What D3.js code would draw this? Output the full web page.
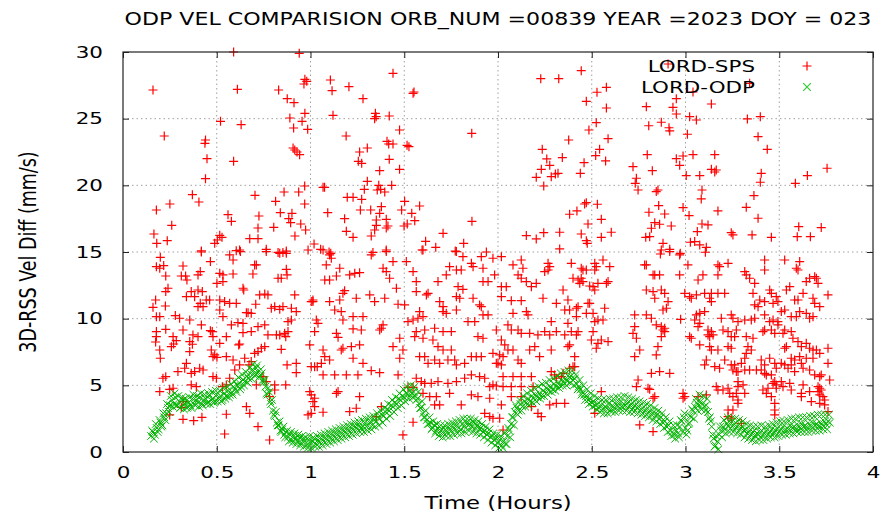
<!DOCTYPE html>
<html>
<head>
<meta charset="utf-8">
<script src="https://cdn.jsdelivr.net/npm/d3@7/dist/d3.min.js"></script>
<style>
  body { margin: 0; background: #fff; }
  text { font-family: "DejaVu Sans", sans-serif; fill: #000; }
</style>
</head>
<body>
<svg id="chart" width="881" height="512"></svg>
<script>
'use strict';

const chartTitle = "ODP VEL COMPARISION ORB_NUM =00839 YEAR =2023 DOY = 023";
const xLabel = "Time (Hours)";
const yLabel = "3D-RSS Vel Diff (mm/s)";
const seriesNames = ["LORD-SPS", "LORD-ODP"];
const xTicks = [0, 0.5, 1, 1.5, 2, 2.5, 3, 3.5, 4];
const yTicks = [0, 5, 10, 15, 20, 25, 30];

// LORD-ODP samples, one every 0.01 h from 0.15 h
const odpStart = 0.15, odpStep = 0.01;
const odpVel = [
  1.2,1.5,1.3,1.8,1.7,2.2,2.0,2.6,2.9,3.3,
  3.5,3.9,3.6,4.1,3.5,3.8,3.4,3.9,3.6,3.3,
  3.7,3.5,4.0,3.6,3.9,3.7,4.1,3.6,3.9,4.0,
  3.7,4.2,3.9,4.0,3.8,4.3,4.0,4.2,3.9,4.4,
  4.2,4.6,4.3,4.5,4.9,4.7,5.0,5.2,4.9,5.4,
  5.3,5.7,5.5,5.9,6.2,5.9,6.3,6.0,5.7,5.9,
  5.2,4.9,4.3,4.5,3.6,3.1,2.7,2.2,2.0,1.6,
  1.7,1.3,1.5,1.1,1.3,0.9,1.2,1.0,0.8,1.1,
  0.7,1.0,0.8,0.5,0.9,0.6,0.8,1.0,0.6,0.9,
  0.7,1.0,0.8,1.1,0.9,1.2,1.0,1.3,1.1,1.4,
  1.2,1.5,1.3,1.6,1.4,1.7,1.5,1.8,1.6,1.9,
  1.7,2.0,1.8,1.9,2.2,1.9,2.1,2.3,2.0,2.4,
  2.3,2.6,2.5,2.8,2.7,3.0,3.2,3.1,3.5,3.4,
  3.7,3.6,4.0,3.9,4.2,4.1,4.4,4.3,4.6,4.4,
  4.5,4.2,4.0,3.6,3.3,2.9,2.6,2.4,2.1,2.2,
  1.8,2.0,1.6,1.8,1.5,1.7,1.4,1.7,1.5,1.8,
  1.6,1.9,1.7,2.0,1.8,1.7,2.1,1.9,2.2,2.0,
  2.1,1.9,2.2,1.8,2.0,1.7,1.8,1.5,1.6,1.3,
  1.4,1.1,1.2,0.9,1.0,0.7,0.9,0.5,0.8,0.6,
  1.2,1.6,2.1,2.6,3.0,3.3,3.1,3.6,3.4,3.8,
  3.7,4.0,3.8,4.2,4.0,4.3,4.1,4.4,4.2,4.6,
  4.5,4.8,4.6,4.9,4.7,5.1,4.9,5.2,5.0,5.4,
  5.2,5.5,5.3,5.6,5.7,5.4,5.5,5.1,4.9,4.7,
  4.5,4.3,4.2,3.9,4.0,3.7,3.8,3.5,3.6,3.3,
  3.5,3.2,3.4,3.3,3.6,3.2,3.5,3.3,3.6,3.4,
  3.7,3.4,3.6,3.5,3.7,3.4,3.6,3.3,3.5,3.3,
  3.4,3.1,3.3,3.0,3.2,2.9,3.1,2.8,3.0,2.7,
  2.8,2.5,2.6,2.2,2.3,1.9,2.0,1.6,1.5,1.3,
  1.6,1.4,1.9,2.3,2.6,1.8,1.6,2.2,2.6,3.1,
  3.4,3.7,3.5,3.8,3.6,3.4,3.5,3.0,2.6,1.9,
  1.0,0.5,0.8,1.3,1.6,1.9,1.7,2.1,1.9,2.2,
  1.9,2.1,1.8,2.0,1.7,1.9,1.6,1.7,1.4,1.6,
  1.3,1.5,1.2,1.4,1.3,1.5,1.2,1.4,1.6,1.3,
  1.5,1.7,1.4,1.6,1.8,1.5,1.7,1.9,1.6,1.8,
  1.7,2.0,1.8,1.9,1.7,2.0,1.8,2.1,1.9,2.0,
  1.8,2.1,1.9,2.2,2.0,2.1,1.9,2.2,2.0,2.3,
  2.1,2.3,2.2
];

// LORD-ODP samples in between, one every 0.01 h from 0.155 h
const odpStartB = 0.155;
const odpVelB = [
  1.6,1.0,2.1,1.5,2.4,1.9,2.9,2.4,3.6,3.0,
  4.2,3.4,4.4,3.5,4.2,3.3,4.1,3.2,4.0,3.4,
  4.1,3.3,4.3,3.5,4.2,3.4,4.4,3.5,4.3,3.6,
  4.4,3.6,4.5,3.7,4.6,3.8,4.6,3.8,4.8,4.0,
  4.9,4.1,5.1,4.3,5.3,4.5,5.6,4.7,5.8,5.0,
  6.0,5.2,6.3,5.5,6.6,5.7,6.5,5.6,6.2,5.4,
  5.4,4.4,4.8,3.8,3.9,2.8,3.0,2.0,2.3,1.5,
  1.9,1.1,1.6,0.8,1.5,0.7,1.4,0.6,1.3,0.5,
  1.2,0.4,1.1,0.3,1.2,0.3,1.1,0.4,1.2,0.4,
  1.3,0.5,1.4,0.6,1.5,0.7,1.6,0.8,1.7,0.9,
  1.8,1.0,1.9,1.1,2.0,1.2,2.1,1.3,2.2,1.4,
  2.3,1.5,2.4,1.5,2.5,1.6,2.6,1.7,2.7,1.9,
  2.9,2.0,3.1,2.2,3.3,2.5,3.6,2.7,3.9,3.0,
  4.1,3.3,4.4,3.5,4.7,3.8,4.9,4.0,5.0,4.1,
  4.9,3.9,4.5,3.3,3.8,2.6,3.1,2.1,2.6,1.7,
  2.3,1.4,2.1,1.2,2.0,1.1,2.0,1.2,2.1,1.2,
  2.2,1.3,2.3,1.4,2.4,1.4,2.5,1.5,2.5,1.6,
  2.5,1.5,2.4,1.4,2.3,1.3,2.1,1.1,1.9,0.9,
  1.7,0.7,1.4,0.5,1.3,0.3,1.2,0.3,1.4,0.6,
  1.8,1.1,2.6,2.0,3.5,2.8,3.9,3.1,4.2,3.4,
  4.4,3.5,4.6,3.7,4.8,3.8,4.9,4.0,5.1,4.2,
  5.2,4.3,5.4,4.5,5.5,4.6,5.7,4.8,5.9,5.0,
  6.0,5.0,6.1,5.2,6.1,5.0,5.8,4.7,5.4,4.3,
  5.0,3.9,4.7,3.6,4.4,3.4,4.2,3.2,4.0,3.0,
  3.9,2.9,3.9,2.9,4.0,3.0,4.0,3.0,4.1,3.1,
  4.1,3.1,4.2,3.1,4.1,3.0,4.0,3.0,3.9,2.9,
  3.8,2.8,3.7,2.7,3.6,2.6,3.5,2.4,3.3,2.3,
  3.1,2.1,2.9,1.8,2.6,1.5,2.3,1.2,2.0,1.0,
  2.0,1.1,2.4,1.5,2.9,1.3,2.1,2.7,3.2,2.5,
  4.0,3.1,4.3,3.2,4.2,3.1,4.0,2.5,2.3,1.3,
  0.4,1.2,0.2,1.9,1.1,2.4,1.4,2.6,1.5,2.5,
  1.5,2.5,1.4,2.4,1.3,2.3,1.1,2.1,1.0,2.0,
  0.9,1.9,0.8,1.9,0.9,2.0,0.9,1.9,1.0,2.0,
  1.1,2.1,1.1,2.2,1.2,2.3,1.3,2.3,1.3,2.4,
  1.4,2.5,1.4,2.5,1.5,2.6,1.5,2.6,1.5,2.6,
  1.5,2.7,1.6,2.7,1.6,2.8,1.6,2.8,1.7,2.8,
  1.7,2.8
];

// LORD-SPS points [hours, mm/s]
const spsPoints = [
  [.59,30.0],[.94,29.9],[.16,27.15],[.61,27.2],[.83,27.15],[.97,27.95],[.98,27.8],[.965,27.6],[1.106,27.9],[1.115,27.1],
  [1.205,27.4],[1.44,28.4],[1.28,26.5],[1.547,26.9],[1.552,27.0],[.876,26.5],[.912,26.2],[.89,25.05],[.97,25.4],[.955,24.8],
  [.91,24.3],[.985,24.2],[1.12,25.25],[1.346,25.4],[1.342,25.0],[1.35,25.15],[1.42,25.2],[.52,24.8],[.63,24.55],[.22,23.7],
  [.44,23.4],[.437,23.15],[1.19,23.7],[1.475,24.15],[1.86,23.9],[1.408,23.3],[1.417,23.1],[1.44,23.1],[1.515,23.0],[1.525,22.9],
  [1.303,22.8],[1.262,22.5],[.907,22.8],[.916,22.65],[.928,22.5],[.942,22.3],[.448,22.0],[.59,21.8],[1.255,21.8],[1.273,21.65],
  [1.42,21.95],[1.369,21.1],[1.475,21.2],[.44,20.5],[1.303,20.3],[.969,19.95],[1.067,19.85],[1.075,19.85],[1.364,20.0],[1.374,19.7],
  [1.356,19.65],[1.396,19.5],[1.433,20.0],[1.287,19.7],[.37,19.3],[.405,18.75],[.704,19.25],[.859,19.5],[.937,19.5],[.814,18.8],
  [.969,18.6],[1.196,19.1],[1.227,19.1],[1.273,18.95],[1.502,18.8],[1.582,18.45],[.178,18.15],[.25,18.6],[1.266,18.15],[1.321,18.15],
  [1.378,18.4],[1.369,17.9],[1.351,17.4],[1.486,18.15],[1.54,17.9],[.56,17.8],[.578,17.3],[.725,17.7],[.839,17.95],[.901,17.9],
  [.884,17.5],[.894,17.2],[1.092,17.95],[1.182,17.5],[1.404,17.45],[1.413,16.95],[1.404,16.8],[1.351,17.0],[1.342,16.65],[1.324,16.2],
  [1.556,17.35],[1.516,17.1],[1.499,16.95],[1.861,17.3],[.26,17.0],[.165,16.35],[.18,15.65],[.236,15.85],[.72,16.8],[.72,16.0],
  [.676,16.0],[.804,16.85],[.948,17.1],[.917,16.2],[.974,16.65],[1.191,16.55],[1.227,16.1],[1.707,16.4],[1.614,15.8],[1.668,15.35],
  [1.817,15.65],[.516,16.25],[.528,16.1],[.503,15.9],[.489,15.65],[1.019,15.6],[1.054,15.2],[1.099,15.0],[1.108,14.9],[.418,15.0],
  [.622,15.15],[.604,15.1],[.764,15.2],[.827,14.97],[.853,14.97],[.871,15.07],[1.333,14.97],[1.404,15.15],[1.595,15.15],[1.772,15.07],
  [1.938,15.0],
  [2.907,29.1],[2.444,28.6],[2.228,28.0],[2.324,28.0],[3.342,27.65],[3.04,27.0],[2.578,27.35],[2.528,26.98],[2.471,26.3],[2.951,26.5],
  [2.933,25.85],[2.951,25.35],[2.791,25.9],[3.138,26.1],[2.578,25.8],[3.022,25.15],[3.058,24.9],[3.33,24.98],[3.399,25.15],[2.524,24.7],
  [2.804,24.47],[2.871,24.73],[2.912,24.32],[2.916,24.08],[2.485,24.15],[3.01,23.83],[3.387,23.65],[2.377,23.4],[2.587,23.5],[2.236,22.7],
  [2.542,22.7],[3.436,22.7],[2.26,21.98],[2.343,22.08],[2.521,22.23],[2.574,21.83],[2.459,21.7],[2.796,22.3],[2.951,22.0],[2.987,22.2],
  [3.04,22.3],[2.969,21.5],[3.156,22.3],[2.276,21.5],[2.231,21.2],[2.204,20.6],[2.244,19.95],[2.284,20.65],[2.306,20.85],[2.32,20.9],
  [2.439,20.9],[2.72,21.4],[2.738,20.53],[2.732,20.15],[2.747,19.65],[2.823,21.1],[3.138,21.2],[3.164,21.15],[3.156,21.0],[3.004,20.73],
  [3.076,20.73],[3.404,20.9],[3.399,20.23],[3.586,20.15],[3.65,20.73],[3.755,21.28],[2.844,19.53],[2.853,19.65],[3.088,19.65],[3.084,18.98],
  [3.365,19.23],[2.462,18.6],[2.471,18.7],[2.53,18.58],[2.421,18.08],[2.382,17.83],[2.857,18.48],[2.805,17.98],[2.889,17.85],[2.987,18.33],
  [3.019,17.73],[3.173,18.08],[3.324,18.35],[3.387,17.53],[2.551,17.45],[2.48,17.1],[2.836,17.2],[2.862,17.08],[2.818,16.78],[2.809,16.15],
  [2.924,16.95],[3.088,17.1],[3.12,17.03],[3.063,16.53],[3.244,16.45],[3.253,16.28],[3.355,16.28],[3.458,16.1],[3.604,16.9],[3.596,16.15],
  [3.666,16.15],[3.724,16.83],[2.151,16.23],[2.204,15.98],[2.244,16.45],[2.329,16.48],[2.444,16.35],[2.471,15.85],[2.476,15.65],[2.551,16.1],
  [2.604,16.48],[2.788,16.1],[2.88,15.65],[2.916,15.2],[3.026,15.73],[3.049,15.78],[3.076,15.53],[3.111,15.35],[3.106,14.98],[2.329,15.23],
  [2.972,14.9],[2.866,14.85],
  [.199,14.6],[.178,13.9],[.196,13.78],[.217,13.98],[.228,13.2],[.32,13.95],[.311,13.2],[.334,13.2],[.24,12.28],[.228,12.03],
  [.174,11.4],[.16,10.85],[.226,10.95],[.178,10.15],[.196,10.15],[.279,10.23],[.228,9.2],[.178,8.65],[.174,8.25],[.196,7.65],
  [.199,7.03],[.267,8.65],[.284,8.35],[.258,7.9],[.27,8.1],[.32,9.15],[.356,8.28],[.178,9.03],[.213,5.53],[.228,5.65],
  [.249,4.7],[.267,4.78],[.196,4.53],[.338,6.65],[.329,6.28],[.293,6.03],[.32,3.78],[.311,3.35],[.32,2.45],[.377,2.35],
  [.421,2.6],[.249,2.78],[.364,12.03],[.4,12.15],[.423,12.03],[.444,11.4],[.462,11.4],[.338,11.65],[.382,11.65],[.427,10.9],
  [.412,11.15],[.4,10.9],[.302,10.03],[.356,9.9],[.418,9.53],[.466,9.1],[.476,9.03],[.373,8.78],[.4,8.65],[.37,8.08],
  [.356,7.53],[.471,7.65],[.489,7.28],[.501,7.1],[.409,6.28],[.427,6.15],[.382,6.03],[.48,5.65],[.498,5.53],[.364,5.03],
  [.391,4.9],[.364,5.9],[.466,14.28],[.412,13.53],[.4,13.28],[.341,12.9],[.418,15.08],[.516,13.4],[.533,13.28],[.587,13.35],
  [.501,12.65],[.533,12.78],[.516,11.4],[.542,11.28],[.569,11.15],[.604,11.15],[.533,10.15],[.578,9.53],[.613,9.7],[.516,10.65],
  [.617,8.03],[.622,8.1],[.551,8.65],[.516,8.15],[.48,8.65],[.48,7.15],[.587,6.9],[.551,7.15],[.649,7.03],[.672,6.53],
  [.684,6.78],[.702,7.4],[.72,7.53],[.738,7.78],[.756,7.9],[.64,8.95],[.684,9.03],[.72,9.4],[.756,9.53],[.773,8.78],
  [.818,8.78],[.836,8.78],[.862,8.9],[.64,9.65],[.667,10.45],[.658,10.45],[.684,10.4],[.708,11.08],[.729,11.78],[.756,11.85],
  [.773,11.78],[.569,14.78],[.626,15.03],[.587,14.4],[.644,12.15],[.64,12.28],[.702,14.03],[.693,13.35],[.711,14.03],[.764,15.03],
  [.836,14.9],[.871,14.9],[.827,13.03],[.844,13.03],[.875,13.28],[.871,13.7],[.791,10.78],[.809,10.9],[.836,10.7],[.853,10.9],
  [.898,10.78],[.916,11.78],[.924,10.53],[.898,9.9],[.88,9.78],[.88,9.03],[.868,8.65],[.844,7.7],[.924,6.65],[.924,5.95],
  [.875,6.53],[1.013,11.28],[1.004,11.28],[.711,5.03],[.658,3.4],[.676,2.9],[.551,2.83],[.72,1.9],[.542,1.35],[.782,0.9],
  [.782,4.15],[.809,4.65],[.809,5.03],[.868,5.03],[.764,5.28],[.747,5.65],[.53,4.9],[.569,5.53],[.551,5.03],[.622,6.53],
  [.596,6.15],
  [.987,15.15],[1.067,15.15],[1.102,14.78],[1.156,13.78],[1.084,14.03],[1.111,14.53],[1.209,13.28],[1.236,13.4],[1.262,13.45],[1.138,13.2],
  [1.076,12.9],[1.102,12.9],[1.324,14.78],[1.404,15.03],[1.44,14.28],[1.387,13.78],[1.404,13.53],[1.422,13.03],[1.182,12.1],[1.173,11.9],
  [1.244,11.53],[1.316,11.78],[1.342,11.28],[1.396,11.53],[1.458,12.28],[1.013,11.4],[1.102,11.28],[1.156,11.4],[1.129,10.65],[1.164,10.53],
  [1.227,10.15],[1.28,10.15],[1.173,9.9],[1.031,9.9],[1.04,9.65],[1.022,9.03],[1.138,8.9],[1.147,8.6],[1.227,9.23],[1.271,9.15],
  [1.369,9.15],[1.387,9.53],[1.378,9.28],[1.467,11.08],[1.502,11.03],[1.44,7.9],[1.476,8.53],[1.493,7.65],[1.476,7.03],[.996,8.03],
  [1.067,7.65],[1.076,7.15],[1.102,6.9],[1.164,7.65],[1.173,7.78],[1.218,7.9],[1.262,8.03],[1.058,6.65],[1.022,6.4],[1.004,6.4],
  [1.036,6.4],[1.067,5.78],[1.129,5.78],[1.191,5.78],[1.253,5.78],[1.324,6.1],[1.369,5.95],[1.467,5.78],[1.227,7.03],[1.28,6.65],
  [.996,4.53],[1.004,4.28],[1.022,4.03],[1.013,3.78],[1.022,3.4],[1.004,2.9],[.987,2.78],[1.067,2.98],[1.147,4.53],[1.138,4.4],
  [1.262,4.15],[1.378,3.4],[1.244,3.28],[1.209,3.03],[1.351,2.65],[1.493,1.28],[1.547,2.23],[1.52,4.85],[1.547,4.85],
  [1.511,14.28],[1.547,13.53],[1.564,12.78],[1.564,12.03],[1.627,11.9],[1.618,11.78],[1.52,9.78],[1.547,9.9],[1.573,10.03],[1.6,10.15],
  [1.582,10.53],[1.68,12.78],[1.724,13.28],[1.742,13.9],[1.778,13.65],[1.804,13.65],[1.858,14.15],[1.867,13.9],[1.92,13.78],[1.911,14.65],
  [1.973,14.53],[1.982,13.28],[1.6,15.15],[1.778,15.03],[1.813,14.65],[1.787,12.4],[1.813,12.2],[1.92,12.78],[1.947,12.78],[1.689,11.28],
  [1.707,10.9],[1.778,11.65],[1.796,11.53],[1.867,11.53],[1.902,11.03],[1.911,10.9],[1.707,10.53],[1.724,10.4],[1.778,10.65],[1.84,9.78],
  [1.876,9.78],[1.92,10.28],[1.947,10.28],[1.564,9.03],[1.609,9.15],[1.662,9.28],[1.707,9.03],[1.751,9.03],[1.556,8.65],[1.6,8.53],
  [1.653,8.4],[1.68,7.9],[1.707,7.65],[1.751,7.65],[1.893,8.65],[1.92,8.53],[1.991,9.15],[1.582,7.15],[1.609,7.15],[1.627,6.65],
  [1.662,6.9],[1.689,6.65],[1.733,6.9],[1.769,6.9],[1.778,6.53],[1.822,6.65],[1.858,7.15],[1.884,7.15],[1.911,7.15],[1.973,7.4],
  [1.991,6.65],[1.564,5.53],[1.591,5.28],[1.609,5.15],[1.644,5.15],[1.68,5.28],[1.733,5.15],[1.778,5.28],[1.822,5.53],[1.858,5.78],
  [1.902,5.65],[1.929,5.53],[1.956,4.9],[1.973,5.03],[1.991,4.95],[1.6,4.4],[1.636,4.15],[1.671,4.15],[1.742,4.4],[1.804,3.53],
  [1.858,4.28],[1.893,4.15],[1.956,4.03],[1.929,2.9],[1.956,2.65],[1.973,2.53],[1.662,3.53],[1.689,3.53],
  [2.018,14.65],[2.08,14.03],[2.124,14.4],[2.133,13.78],[2.107,13.28],[2.124,13.03],[2.151,12.78],[2.178,12.4],[2.204,12.65],[2.018,12.4],
  [2.044,12.4],[2.018,11.65],[2.071,11.35],[2.124,11.35],[2.151,10.53],[2.16,10.28],[2.08,10.4],[2.053,9.53],[2.071,9.15],[2.107,9.15],
  [2.124,8.9],[2.169,8.9],[2.213,8.78],[2.018,8.4],[2.036,8.03],[2.053,7.65],[2.08,7.65],[2.009,7.28],[2.027,7.15],[2.0,6.65],
  [2.018,6.53],[2.107,6.9],[2.124,6.65],[2.169,7.65],[2.196,7.9],[2.222,7.15],[2.027,5.65],[2.08,5.65],[2.124,5.65],[2.178,5.65],
  [2.027,4.9],[2.071,4.9],[2.124,4.9],[2.187,4.9],[2.071,4.15],[2.124,4.15],[2.018,3.53],[2.009,2.53],[2.027,1.65],[2.178,3.4],
  [2.213,2.9],[2.231,2.65],
  [2.249,13.53],[2.267,14.15],[2.276,13.9],[2.267,13.65],[2.24,11.53],[2.311,11.15],[2.347,12.15],[2.373,11.4],[2.356,10.65],[2.382,10.65],
  [2.418,10.78],[2.427,10.9],[2.4,13.03],[2.427,12.9],[2.444,13.03],[2.436,12.65],[2.453,12.78],[2.489,12.45],[2.391,14.15],[2.444,13.78],
  [2.453,13.65],[2.471,13.65],[2.284,9.78],[2.249,9.03],[2.276,8.78],[2.311,9.03],[2.356,8.78],[2.391,9.03],[2.418,8.78],[2.427,9.03],
  [2.373,9.65],[2.418,10.15],[2.471,10.4],[2.48,11.15],[2.284,7.65],[2.373,7.9],[2.382,8.03],[2.409,7.15],[2.4,6.4],[2.284,6.03],
  [2.347,5.9],[2.382,6.28],[2.409,6.4],[2.311,5.53],[2.338,5.65],[2.302,5.78],[2.276,3.53],[2.356,3.65],[2.311,3.65],
  [2.516,14.15],[2.524,13.9],[2.516,13.65],[2.56,14.4],[2.596,13.9],[2.507,12.4],[2.516,12.15],[2.533,12.65],[2.587,12.78],[2.578,12.65],
  [2.489,11.15],[2.507,10.4],[2.56,9.9],[2.569,10.78],[2.533,9.9],[2.516,9.78],[2.507,9.03],[2.498,8.4],[2.533,8.15],[2.524,7.78],
  [2.551,8.4],[2.587,8.28],[2.516,2.9],[2.551,4.53],[2.729,10.28],[2.729,9.4],[2.72,8.9],[2.738,8.53],[2.756,7.65],[2.729,7.15],
  [2.782,14.03],[2.791,14.03],[2.836,13.28],[2.827,13.28],[2.862,13.28],[2.791,12.15],[2.827,12.03],[2.836,11.53],[2.871,12.15],[2.889,11.9],
  [2.907,11.28],[2.898,10.78],[2.88,10.65],[2.791,10.28],[2.818,10.03],[2.844,9.53],[2.871,9.4],[2.889,9.28],[2.88,9.15],[2.889,9.03],
  [2.871,8.65],[2.853,7.9],[2.844,7.28],[2.818,5.9],[2.862,6.03],[2.916,5.9],[2.747,5.4],[2.738,4.9],[2.8,4.78],[2.809,4.7],
  [2.836,4.15],[2.827,4.03],[2.756,2.03],[2.827,1.53],
  [2.871,15.15],[2.916,15.03],[2.969,14.78],[2.969,13.28],[2.996,11.9],[3.022,11.65],[3.031,11.53],[3.058,11.78],[2.974,9.95],[3.031,8.53],
  [3.022,8.65],[2.987,4.4],[2.987,4.03],[2.996,4.15],[3.067,4.15],[3.111,4.28],
  [3.013,14.03],[3.067,12.9],[3.093,13.28],[3.102,11.9],[3.138,11.9],[3.173,11.9],[3.209,11.9],[3.173,14.03],[3.173,13.28],[3.227,14.15],
  [3.182,13.9],[3.129,11.53],[3.138,11.28],[3.058,10.28],[3.076,10.4],[3.102,10.53],[3.049,9.9],[3.076,9.65],[3.067,9.4],[3.12,9.15],
  [3.138,9.03],[3.12,8.78],[3.147,8.78],[3.129,8.65],[3.191,10.03],[3.244,10.28],[3.253,10.03],[3.28,9.78],[3.2,9.15],[3.227,9.03],
  [3.271,9.15],[3.244,8.65],[3.262,8.65],[3.076,8.03],[3.129,7.9],[3.138,7.65],[3.173,7.65],[3.227,7.9],[3.244,7.78],[3.111,6.9],
  [3.102,6.53],[3.156,6.4],[3.182,6.28],[3.209,6.9],[3.244,6.53],[3.271,6.03],[3.28,5.28],[3.28,4.9],[3.307,5.03],[3.164,4.9],
  [3.173,4.65],[3.2,4.65],[3.227,4.78],[3.236,4.4],[3.253,4.15],[3.28,3.9],[3.28,3.65],[3.227,3.15],[3.253,3.15],[3.227,2.65],
  [3.244,2.53],[3.298,2.15],[3.271,4.4],
  [3.316,13.53],[3.324,13.28],[3.342,13.03],[3.369,12.65],[3.422,14.4],[3.422,13.65],[3.36,11.9],[3.396,11.4],[3.369,11.03],[3.387,10.9],
  [3.422,11.28],[3.449,12.15],[3.458,11.9],[3.467,11.15],[3.484,11.65],[3.493,11.28],[3.316,9.9],[3.351,9.9],[3.369,10.03],[3.422,10.28],
  [3.449,9.78],[3.467,9.9],[3.493,9.78],[3.493,9.53],[3.324,8.65],[3.36,8.53],[3.413,9.03],[3.422,9.15],[3.458,9.15],[3.476,8.9],
  [3.333,7.9],[3.351,7.65],[3.324,7.4],[3.316,7.03],[3.404,6.9],[3.449,7.03],[3.422,6.53],[3.476,6.65],[3.484,6.28],[3.298,6.65],
  [3.262,6.53],[3.253,6.15],[3.28,6.03],[3.316,6.15],[3.342,6.15],[3.378,6.15],[3.404,6.15],[3.422,5.9],[3.431,5.78],[3.458,5.78],
  [3.467,5.15],[3.476,5.28],[3.484,5.03],[3.44,4.78],[3.484,4.78],[3.458,4.15],[3.476,3.65],[3.476,3.15],[3.476,2.78],[3.413,4.65],
  [3.431,4.4],[3.316,4.4],
  [3.529,14.4],[3.591,13.78],[3.6,13.65],[3.609,14.28],[3.538,12.15],[3.556,12.4],[3.582,11.4],[3.6,11.4],[3.627,11.9],[3.644,12.78],
  [3.662,13.03],[3.689,13.15],[3.707,12.65],[3.698,13.03],[3.76,11.78],[3.68,11.53],[3.689,11.15],[3.716,10.9],[3.511,10.53],[3.529,10.65],
  [3.564,10.15],[3.591,10.15],[3.609,10.53],[3.644,10.4],[3.662,10.03],[3.68,10.15],[3.52,8.9],[3.529,9.15],[3.564,9.03],[3.573,8.53],
  [3.6,8.28],[3.618,7.9],[3.644,8.15],[3.662,7.78],[3.68,7.65],[3.529,7.78],[3.538,7.9],[3.564,7.03],[3.582,6.9],[3.609,7.15],
  [3.618,6.65],[3.644,7.03],[3.68,7.03],[3.698,7.65],[3.716,7.4],[3.76,7.78],[3.511,6.65],[3.529,6.53],[3.547,6.28],[3.564,6.53],
  [3.582,6.03],[3.627,6.28],[3.662,6.15],[3.689,5.78],[3.716,5.65],[3.724,5.78],[3.76,6.65],[3.511,5.28],[3.52,4.9],[3.556,5.15],
  [3.564,4.65],[3.627,5.03],[3.618,4.4],[3.662,4.53],[3.707,4.9],[3.716,4.78],[3.724,4.65],[3.707,4.53],[3.769,5.4],[3.716,4.28],
  [3.733,4.15],[3.742,3.9],[3.742,3.53],[3.716,3.65],[3.76,3.03],[3.618,4.15],[3.671,3.78]
];

(function () {
  const svg = d3.select("#chart");
  const margin = { left: 123, top: 52, right: 8, bottom: 60 };
  const width = 881 - margin.left - margin.right;
  const height = 512 - margin.top - margin.bottom;
  const stretch = 1.3; // glyphs of the reference are wide

  const x = d3.scaleLinear().domain([0, 4]).range([0, width]);
  const y = d3.scaleLinear().domain([0, 30]).range([height, 0]);

  const g = svg.append("g")
    .attr("transform", `translate(${margin.left},${margin.top})`);

  // dotted grid
  g.append("g").selectAll("line")
    .data(xTicks.slice(1, -1))
    .join("line")
    .attr("x1", d => x(d)).attr("x2", d => x(d))
    .attr("y1", 0).attr("y2", height)
    .attr("stroke", "#a0a0a0").attr("stroke-dasharray", "1.5,3");
  g.append("g").selectAll("line")
    .data(yTicks.slice(1, -1))
    .join("line")
    .attr("x1", 0).attr("x2", width)
    .attr("y1", d => y(d)).attr("y2", d => y(d))
    .attr("stroke", "#a0a0a0").attr("stroke-dasharray", "1.5,3");

  // axes, ticks pointing inward, mirrored on top/right
  const fmt = d => String(d);
  const xAxis = g.append("g")
    .attr("transform", `translate(0,${height})`)
    .call(d3.axisBottom(x).tickValues(xTicks).tickFormat(fmt).tickSize(-6).tickSizeOuter(0).tickPadding(14));
  const yAxis = g.append("g")
    .call(d3.axisLeft(y).tickValues(yTicks).tickFormat(fmt).tickSize(-6).tickSizeOuter(0).tickPadding(20));
  g.append("g")
    .call(d3.axisTop(x).tickValues(xTicks).tickFormat("").tickSize(-6).tickSizeOuter(0));
  g.append("g")
    .attr("transform", `translate(${width},0)`)
    .call(d3.axisRight(y).tickValues(yTicks).tickFormat("").tickSize(-6).tickSizeOuter(0));

  g.selectAll(".domain").remove();
  g.selectAll(".tick line").attr("stroke", "#222");
  [xAxis, yAxis].forEach(a => a.selectAll("text")
    .attr("font-family", "DejaVu Sans")
    .attr("font-size", 16.5)
    .attr("fill", "#111"));
  xAxis.selectAll("text").attr("transform", `scale(${stretch},1)`);
  yAxis.selectAll("text").attr("x", -20 / stretch).attr("transform", `scale(${stretch},1)`);

  const plus = "M-4.5,0H4.5M0,-4.5V4.5";
  const cross = "M-3.8,-3.8L3.8,3.8M-3.8,3.8L3.8,-3.8";

  // LORD-SPS
  g.append("g").selectAll("path")
    .data(spsPoints)
    .join("path")
    .attr("transform", d => `translate(${x(d[0])},${y(d[1])})`)
    .attr("d", plus)
    .attr("fill", "none")
    .attr("stroke", "#ff0000")
    .attr("stroke-width", 1.2);

  // LORD-ODP, both sample sets
  const odp = odpVel.map((v, i) => [odpStart + i * odpStep, v])
    .concat(odpVelB.map((v, i) => [odpStartB + i * odpStep, v]));
  g.append("g").selectAll("path")
    .data(odp)
    .join("path")
    .attr("transform", d => `translate(${x(d[0])},${y(d[1])})`)
    .attr("d", cross)
    .attr("fill", "none")
    .attr("stroke", "#00b400")
    .attr("stroke-width", 1);

  // frame
  g.append("rect")
    .attr("width", width).attr("height", height)
    .attr("fill", "none").attr("stroke", "#222").attr("stroke-width", 1.2);

  // legend
  const legend = g.append("g");
  const legendRows = [
    { name: seriesNames[0], d: plus, color: "#ff0000", yy: 20 },
    { name: seriesNames[1], d: cross, color: "#33cc33", yy: 41 }
  ];
  legendRows.forEach(r => {
    legend.append("text")
      .attr("transform", `translate(${755 - margin.left},${r.yy}) scale(${stretch},1)`)
      .attr("text-anchor", "end")
      .attr("font-size", 16.5)
      .text(r.name);
    legend.append("path")
      .attr("transform", `translate(${807 - margin.left},${r.yy - 6})`)
      .attr("d", r.d)
      .attr("fill", "none")
      .attr("stroke", r.color)
      .attr("stroke-width", 1.2);
  });

  // title and axis labels
  svg.append("text")
    .attr("transform", `translate(${margin.left + width / 2},25) scale(1.3,1)`)
    .attr("text-anchor", "middle")
    .attr("font-size", 17)
    .text(chartTitle);

  svg.append("text")
    .attr("transform", `translate(${margin.left + width / 2},509) scale(${stretch},1)`)
    .attr("text-anchor", "middle")
    .attr("font-size", 17.5)
    .text(xLabel);

  svg.append("text")
    .attr("transform", `translate(36,${margin.top + height / 2}) scale(${stretch},1) rotate(-90)`)
    .attr("text-anchor", "middle")
    .attr("font-size", 17.5)
    .text(yLabel);
})();
</script>
</body>
</html>
